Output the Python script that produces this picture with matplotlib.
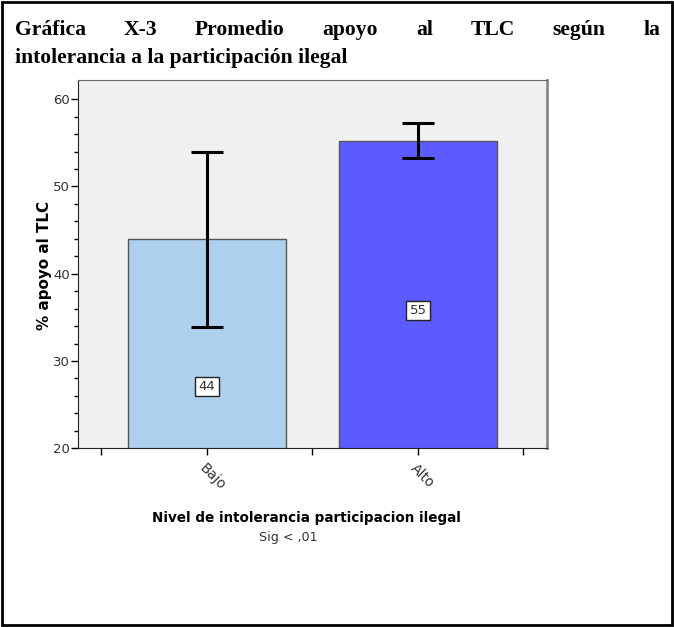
import matplotlib.pyplot as plt
from matplotlib.patches import Rectangle

categories = ["Bajo", "Alto"]
means = [44.0, 55.2]
ci_low = [33.9, 53.3]
ci_high = [54.0, 57.3]
label_texts = ["44", "55"]
label_y = [27.1, 35.8]
bar_colors = ["#aecfee", "#5b5bff"]

title_line1 = ["Gráfica", "X-3", "Promedio", "apoyo", "al", "TLC", "según", "la"]
title_line2 = "intolerancia a la participación ilegal"

W, H = 674, 627
fig = plt.figure(figsize=(W / 100, H / 100), dpi=100)
ax = fig.add_axes([78 / W, 1 - 448.3 / H, (546.7 - 78) / W, (448.3 - 80) / H])
ax.set_facecolor("#f0f0f0")

x = list(range(len(categories)))
ax.bar(x, means, width=0.75, color=bar_colors, edgecolor="#555555", linewidth=1, zorder=2)
err_lo = [m - l for m, l in zip(means, ci_low)]
err_hi = [h - m for m, h in zip(means, ci_high)]
ax.errorbar(x, means, yerr=[err_lo, err_hi], fmt="none", ecolor="black",
            elinewidth=2.2, capsize=11.5, capthick=2.2, zorder=3)

for xi, txt, yy in zip(x, label_texts, label_y):
    ax.text(xi, yy, txt, ha="center", va="center", fontsize=9.5, color="#333333",
            bbox=dict(boxstyle="square,pad=0.25", facecolor="white", edgecolor="#222222", linewidth=1),
            zorder=4)

ax.set_xlim(-0.611, 1.61)
ax.set_ylim(20, 62.2)
ax.set_yticks([20, 30, 40, 50, 60])
ax.set_yticks(range(22, 62, 2), minor=True)
ax.set_xticks(x)
ax.set_xticks([-0.5, 0.5, 1.5], minor=True)
ax.set_xticklabels(categories, rotation=-45, ha="left", va="top", rotation_mode="anchor",
                   fontsize=10, color="#333333")
ax.tick_params(axis="y", which="major", length=5, width=1, labelsize=9.5, labelcolor="#333333", pad=1)
ax.tick_params(axis="y", which="minor", length=3, width=1)
ax.tick_params(axis="x", which="both", length=5, width=1, pad=4)

ax.spines["left"].set_color("#222222")
ax.spines["bottom"].set_color("#222222")
ax.spines["top"].set_color("#666666")
ax.spines["right"].set_color("#888888")
ax.spines["right"].set_linewidth(2)

fig.canvas.draw()
renderer = fig.canvas.get_renderer()


def fit(txt, target, axis="width"):
    # scale font so the text spans the width seen in the picture
    ext = txt.get_window_extent(renderer)
    size = ext.width if axis == "width" else ext.height
    txt.set_fontsize(txt.get_fontsize() * target / size)


ylab = fig.text(45 / W, 1 - 265 / H, "% apoyo al TLC", rotation=90, ha="center", va="center",
                fontsize=10, fontweight="bold", family="DejaVu Sans")
fit(ylab, 130, "height")
xlab = fig.text(306 / W, 1 - 518 / H, "Nivel de intolerancia participacion ilegal", ha="center",
                va="center", fontsize=10, fontweight="bold", family="DejaVu Sans")
fit(xlab, 308)
sig = fig.text(288 / W, 1 - 538 / H, "Sig < ,01", ha="center", va="center", fontsize=8.5, color="#333333")
fit(sig, 58)

t2 = fig.text(15 / W, 1 - 58 / H, title_line2, fontsize=16, fontweight="bold",
              family="Liberation Serif", va="center", ha="left")
fit(t2, 332)
tsize = t2.get_fontsize()

# justified first title line
words = [fig.text(0, 1 - 30 / H, w, fontsize=tsize, fontweight="bold", family="Liberation Serif",
                  va="center", ha="left") for w in title_line1]
widths = [w.get_window_extent(renderer).width for w in words]
left, right = 15, 660
gap = (right - left - sum(widths)) / (len(words) - 1)
pos = left
for w, wd in zip(words, widths):
    w.set_x(pos / W)
    pos += wd + gap

fig.add_artist(Rectangle((2 / W, 2 / H), 670 / W, 623 / H, transform=fig.transFigure,
                         fill=False, edgecolor="black", linewidth=2))

fig.savefig("out.png", dpi=100)
